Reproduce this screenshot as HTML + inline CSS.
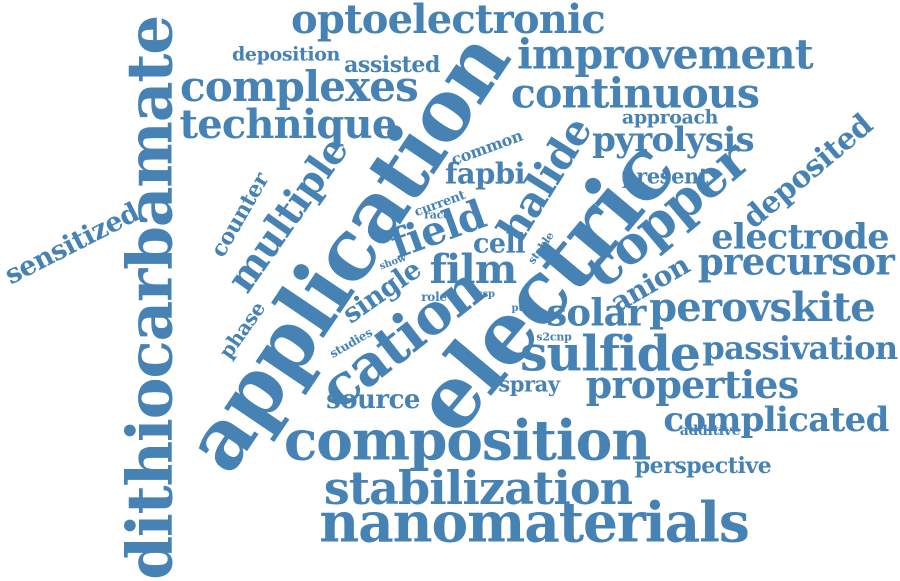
<!DOCTYPE html>
<html><head><meta charset="utf-8"><style>
html,body{margin:0;padding:0;background:#fff;}
#cloud{position:relative;width:900px;height:581px;overflow:hidden;background:#fff;}
#cloud span{position:absolute;font-family:"DejaVu Serif","Liberation Serif",serif;font-weight:bold;color:#4682b4;line-height:1;white-space:nowrap;transform-origin:center center;letter-spacing:-0.02em;}
</style></head><body>
<div id="cloud">
<span style="left:150px;top:298px;font-size:63px;transform:translate(-50%,-50%) rotate(-90deg)">dithiocarbamate</span>
<span style="left:347px;top:252px;font-size:83px;transform:translate(-50%,-50%) rotate(-56deg)">application</span>
<span style="left:545px;top:287px;font-size:85px;transform:translate(-50%,-50%) rotate(-50deg)">electric</span>
<span style="left:667px;top:215px;font-size:52px;transform:translate(-50%,-50%) rotate(-40deg)">copper</span>
<span style="left:467px;top:440px;font-size:55px;transform:translate(-50%,-50%)">composition</span>
<span style="left:534px;top:522px;font-size:55px;transform:translate(-50%,-50%)">nanomaterials</span>
<span style="left:478px;top:488px;font-size:46px;transform:translate(-50%,-50%)">stabilization</span>
<span style="left:448px;top:20px;font-size:40px;transform:translate(-50%,-50%)">optoelectronic</span>
<span style="left:665px;top:55px;font-size:41px;transform:translate(-50%,-50%)">improvement</span>
<span style="left:635px;top:94px;font-size:41px;transform:translate(-50%,-50%)">continuous</span>
<span style="left:299px;top:87px;font-size:42px;transform:translate(-50%,-50%)">complexes</span>
<span style="left:288px;top:125px;font-size:40px;transform:translate(-50%,-50%)">technique</span>
<span style="left:286px;top:55px;font-size:19px;transform:translate(-50%,-50%)">deposition</span>
<span style="left:392px;top:65px;font-size:22px;transform:translate(-50%,-50%)">assisted</span>
<span style="left:670px;top:118px;font-size:19px;transform:translate(-50%,-50%)">approach</span>
<span style="left:673px;top:140px;font-size:34px;transform:translate(-50%,-50%)">pyrolysis</span>
<span style="left:665px;top:176px;font-size:21px;transform:translate(-50%,-50%)">present</span>
<span style="left:485px;top:174px;font-size:29px;transform:translate(-50%,-50%)">fapbi</span>
<span style="left:487px;top:148px;font-size:16px;transform:translate(-50%,-50%) rotate(-20deg)">common</span>
<span style="left:545px;top:180px;font-size:41px;transform:translate(-50%,-50%) rotate(-58deg)">halide</span>
<span style="left:808px;top:172px;font-size:30px;transform:translate(-50%,-50%) rotate(-40deg)">deposited</span>
<span style="left:800px;top:237px;font-size:35px;transform:translate(-50%,-50%)">electrode</span>
<span style="left:796px;top:262px;font-size:37px;transform:translate(-50%,-50%)">precursor</span>
<span style="left:762px;top:308px;font-size:40px;transform:translate(-50%,-50%)">perovskite</span>
<span style="left:800px;top:348px;font-size:32px;transform:translate(-50%,-50%)">passivation</span>
<span style="left:650px;top:284px;font-size:28px;transform:translate(-50%,-50%) rotate(-30deg)">anion</span>
<span style="left:596px;top:313px;font-size:37px;transform:translate(-50%,-50%)">solar</span>
<span style="left:610px;top:354px;font-size:49px;transform:translate(-50%,-50%)">sulfide</span>
<span style="left:692px;top:385px;font-size:38px;transform:translate(-50%,-50%)">properties</span>
<span style="left:776px;top:420px;font-size:34px;transform:translate(-50%,-50%)">complicated</span>
<span style="left:710px;top:431px;font-size:14px;transform:translate(-50%,-50%)">additive</span>
<span style="left:703px;top:466px;font-size:22px;transform:translate(-50%,-50%)">perspective</span>
<span style="left:529px;top:384px;font-size:21px;transform:translate(-50%,-50%)">spray</span>
<span style="left:373px;top:400px;font-size:26px;transform:translate(-50%,-50%)">source</span>
<span style="left:402px;top:338px;font-size:56px;transform:translate(-50%,-50%) rotate(-38deg)">cation</span>
<span style="left:72px;top:244px;font-size:27px;transform:translate(-50%,-50%) rotate(-27deg)">sensitized</span>
<span style="left:240px;top:215px;font-size:22px;transform:translate(-50%,-50%) rotate(-60deg)">counter</span>
<span style="left:288px;top:215px;font-size:39px;transform:translate(-50%,-50%) rotate(-55deg)">multiple</span>
<span style="left:242px;top:330px;font-size:20px;transform:translate(-50%,-50%) rotate(-55deg)">phase</span>
<span style="left:382px;top:292px;font-size:27px;transform:translate(-50%,-50%) rotate(-35deg)">single</span>
<span style="left:438px;top:230px;font-size:40px;transform:translate(-50%,-50%) rotate(-20deg)">field</span>
<span style="left:473px;top:270px;font-size:40px;transform:translate(-50%,-50%)">film</span>
<span style="left:499px;top:244px;font-size:27px;transform:translate(-50%,-50%)">cell</span>
<span style="left:440px;top:204px;font-size:13px;transform:translate(-50%,-50%) rotate(-20deg)">current</span>
<span style="left:437px;top:215px;font-size:11px;transform:translate(-50%,-50%)">race</span>
<span style="left:393px;top:263px;font-size:10px;transform:translate(-50%,-50%) rotate(-20deg)">show</span>
<span style="left:541px;top:248px;font-size:11px;transform:translate(-50%,-50%) rotate(-55deg)">stable</span>
<span style="left:434px;top:297px;font-size:12px;transform:translate(-50%,-50%)">role</span>
<span style="left:486px;top:295px;font-size:10px;transform:translate(-50%,-50%)">ssp</span>
<span style="left:524px;top:309px;font-size:10px;transform:translate(-50%,-50%)">pure</span>
<span style="left:554px;top:337px;font-size:11px;transform:translate(-50%,-50%)">s2cnp</span>
<span style="left:351px;top:343px;font-size:12px;transform:translate(-50%,-50%) rotate(-30deg)">studies</span>
</div>
</body></html>
